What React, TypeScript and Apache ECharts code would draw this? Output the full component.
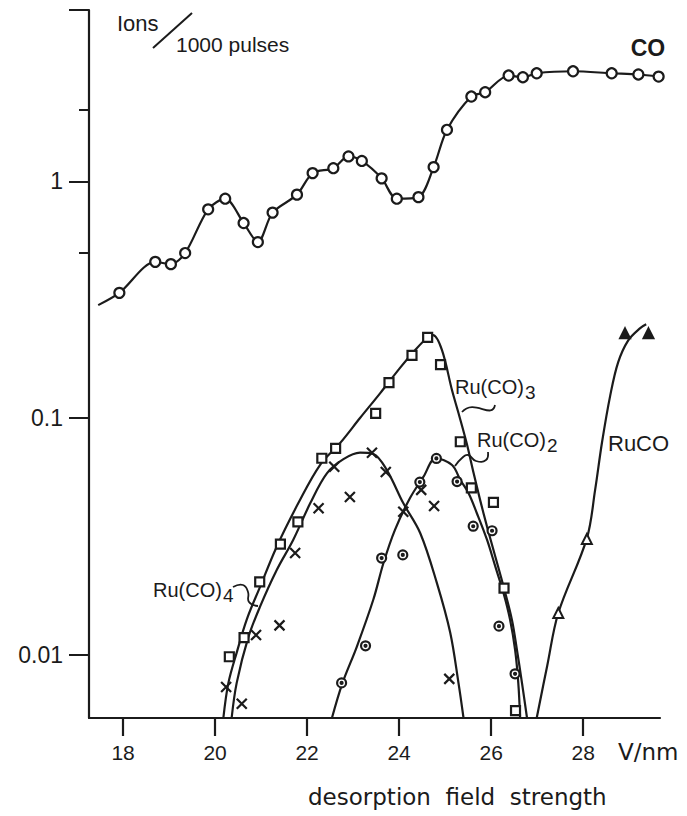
import React, { useEffect, useRef } from 'react';
import * as echarts from 'echarts';

// ---- axis ticks ----
const xTicks = [18, 20, 22, 24, 26, 28];
const yTicks = [0.01, 0.1, 1];
const yMajorTickMarks = [0.01, 0.1, 1, 5.29];
const yMinorTicks = [0.5, 2];

// ---- CO (open circles) ----
const coLineStart: [number, number] = [17.46, 0.30];
const coPoints: [number, number][] = [
  [17.92, 0.338], [18.70, 0.457], [19.04, 0.447], [19.35, 0.498], [19.85, 0.762],
  [20.22, 0.845], [20.62, 0.667], [20.93, 0.554], [21.25, 0.738], [21.78, 0.879],
  [22.12, 1.084], [22.57, 1.137], [22.90, 1.275], [23.19, 1.22], [23.62, 1.03],
  [23.95, 0.845], [24.42, 0.858], [24.75, 1.149], [25.04, 1.652], [25.57, 2.284],
  [25.87, 2.381], [26.38, 2.802], [26.69, 2.755], [26.99, 2.864], [27.78, 2.92],
  [28.62, 2.864], [29.20, 2.83], [29.64, 2.773],
];

// ---- Ru(CO)3 (squares) ----
const ru3Points: [number, number][] = [
  [20.31, 0.0098], [20.63, 0.0118], [20.97, 0.0203], [21.42, 0.0293], [21.80, 0.0364],
  [22.32, 0.0676], [22.62, 0.0745], [23.49, 0.1047], [23.78, 0.141], [24.28, 0.184],
  [24.62, 0.219], [24.90, 0.168], [25.33, 0.0794], [25.57, 0.0507], [26.05, 0.044],
  [26.28, 0.0191], [26.53, 0.0058],
];
const ru3Curve: [number, number][] = [
  [20.18, 0.0054], [20.29, 0.0076], [20.47, 0.0102], [20.69, 0.0141], [20.98, 0.0194],
  [21.34, 0.0286], [21.81, 0.0437], [22.28, 0.0633], [22.72, 0.0785], [23.15, 0.1],
  [23.59, 0.1275], [24.02, 0.163], [24.35, 0.194], [24.63, 0.22], [24.74, 0.224],
  [24.93, 0.194], [25.15, 0.131], [25.29, 0.105], [25.47, 0.078], [25.62, 0.0584],
  [25.76, 0.0451], [25.91, 0.0348], [26.09, 0.026], [26.27, 0.0194], [26.45, 0.0141],
  [26.56, 0.0105], [26.67, 0.0076], [26.78, 0.0054],
];

// ---- Ru(CO)4 (crosses) ----
const ru4Points: [number, number][] = [
  [20.24, 0.0073], [20.58, 0.0062], [20.89, 0.0121], [21.40, 0.0133], [21.74, 0.0269],
  [22.25, 0.0416], [22.59, 0.0623], [22.93, 0.0464], [23.41, 0.0714], [23.71, 0.0592],
  [24.09, 0.0402], [24.48, 0.0497], [24.76, 0.0425], [25.09, 0.0079],
];
const ru4Curve: [number, number][] = [
  [20.36, 0.0054], [20.47, 0.0076], [20.72, 0.0118], [20.98, 0.016], [21.34, 0.0228],
  [21.70, 0.0306], [22.07, 0.0437], [22.43, 0.0584], [22.79, 0.067], [23.15, 0.0714],
  [23.44, 0.0705], [23.73, 0.0604], [24.09, 0.0437], [24.46, 0.0326], [24.82, 0.0201],
  [25.11, 0.0124], [25.29, 0.0076], [25.40, 0.0054],
];

// ---- Ru(CO)2 (dotted circles) ----
const ru2Points: [number, number][] = [
  [22.75, 0.0076], [23.27, 0.0109], [23.62, 0.0256], [24.08, 0.0264], [24.45, 0.0536],
  [24.81, 0.0675], [25.26, 0.0539], [25.61, 0.0349], [26.02, 0.0334], [26.17, 0.0132],
  [26.52, 0.0083],
];
const ru2Curve: [number, number][] = [
  [22.54, 0.0054], [22.77, 0.0076], [23.08, 0.0108], [23.44, 0.0171], [23.66, 0.0244],
  [23.91, 0.0337], [24.24, 0.046], [24.53, 0.0565], [24.80, 0.0676], [25.15, 0.0633],
  [25.33, 0.0547], [25.51, 0.0481], [25.69, 0.0396], [25.91, 0.0306], [26.09, 0.0236],
  [26.27, 0.0182], [26.41, 0.0141], [26.52, 0.0105], [26.59, 0.0076], [26.63, 0.0054],
];

// ---- RuCO (triangles; last two filled) ----
const rucoPoints: [number, number][] = [
  [27.46, 0.0150], [28.08, 0.0308], [28.91, 0.228], [29.42, 0.228],
];
const rucoFilled = [false, false, true, true];
const rucoCurve: [number, number][] = [
  [26.99, 0.0054], [27.22, 0.009], [27.46, 0.015], [28.08, 0.031], [28.26, 0.0497],
  [28.41, 0.079], [28.59, 0.125], [28.76, 0.172], [28.98, 0.213], [29.24, 0.240],
  [29.37, 0.249],
];

const INK = '#1b1b1b';
const FONT = '"Liberation Sans", Arial, sans-serif';
const WIDE = '"DejaVu Sans", sans-serif';

export default function App() {
  const ref = useRef<HTMLDivElement>(null);
  useEffect(() => {
    if (!ref.current) return;
    const chart = echarts.init(ref.current, undefined, { renderer: 'svg' });
    const curveStyle = { color: INK, width: 2.2 };
    const curve = (data: [number, number][]) => ({
      type: 'line', data, smooth: 0.35, showSymbol: false, symbol: 'none',
      lineStyle: curveStyle, z: 2, silent: true,
    });
    const txt = (text: string, x: number, y: number, size: number, extra: any = {}) => ({
      type: 'text', x, y, silent: true,
      style: {
        text, fill: INK,
        font: `${extra.weight || 'normal'} ${size}px ${extra.family || FONT}`,
        textVerticalAlign: 'middle', textAlign: extra.align || 'left',
      },
    });
    // label with subscript, one text element (rich text)
    const subLabel = (main: string, sub: string, x: number, y: number) => ({
      type: 'text', x, y, silent: true,
      style: {
        text: `{m|${main}}{s|${sub}}`, fill: INK, textVerticalAlign: 'middle', textAlign: 'left',
        rich: {
          m: { fontSize: 20, fontFamily: FONT, fill: INK, padding: [0, 1, 10, 0] },
          s: { fontSize: 19, fontFamily: FONT, fill: INK },
        },
      },
    });
    chart.setOption({
      animation: false,
      backgroundColor: '#ffffff',
      grid: { left: 89, right: 27, top: 10, bottom: 98, containLabel: false },
      xAxis: {
        type: 'value', min: 17.26, max: 29.67,
        axisLine: { show: true, lineStyle: { color: INK, width: 2.2 } },
        axisTick: { show: true, customValues: xTicks, length: 18, lineStyle: { color: INK, width: 2.2 } },
        axisLabel: { customValues: xTicks, margin: 24, fontSize: 21, color: INK, fontFamily: FONT },
        splitLine: { show: false },
      },
      yAxis: [
        {
          type: 'log', logBase: 10, min: 0.0054, max: 5.3,
          axisLine: { show: true, lineStyle: { color: INK, width: 2.2 } },
          axisTick: { show: true, customValues: yMajorTickMarks, length: 20, lineStyle: { color: INK, width: 2 } },
          axisLabel: {
            customValues: yTicks, margin: 26, fontSize: 23, color: INK, fontFamily: FONT,
            formatter: (v: number) => String(+Number(v).toPrecision(3)),
          },
          splitLine: { show: false }, minorTick: { show: false },
        },
        {
          type: 'log', logBase: 10, min: 0.0054, max: 5.3, position: 'left',
          axisLine: { show: false },
          axisTick: { show: true, customValues: yMinorTicks, length: 10, lineStyle: { color: INK, width: 2 } },
          axisLabel: { show: false }, splitLine: { show: false },
        },
      ],
      series: [
        { ...curve([coLineStart, ...coPoints]), smooth: 0.3 },
        curve(ru3Curve),
        curve(ru4Curve),
        curve(ru2Curve),
        curve(rucoCurve),
        {
          type: 'scatter', data: coPoints, symbol: 'circle', symbolSize: 10, z: 5,
          itemStyle: { color: '#fff', borderColor: INK, borderWidth: 2.2, opacity: 1 },
        },
        {
          type: 'scatter', data: ru3Points, symbol: 'rect', symbolSize: 9, z: 5,
          itemStyle: { color: '#fff', borderColor: INK, borderWidth: 2.2, opacity: 1 },
        },
        {
          type: 'scatter', data: ru4Points, symbol: 'path://M0,0L10,10M10,0L0,10', symbolSize: 10, z: 5,
          itemStyle: { color: 'rgba(0,0,0,0)', borderColor: INK, borderWidth: 2.2, opacity: 1 },
        },
        {
          type: 'scatter', data: ru2Points,
          symbol: 'path://M10,5A5,5,0,1,1,0,5A5,5,0,1,1,10,5ZM6.1,5A1.1,1.1,0,1,1,3.9,5A1.1,1.1,0,1,1,6.1,5Z',
          symbolSize: 9, z: 5,
          itemStyle: { color: '#fff', borderColor: INK, borderWidth: 2.2, opacity: 1 },
        },
        {
          type: 'scatter', symbol: 'triangle', symbolSize: 10, z: 5,
          data: rucoPoints.map((p, i) => ({ value: p, itemStyle: { color: rucoFilled[i] ? INK : '#fff' } })),
          itemStyle: { color: '#fff', borderColor: INK, borderWidth: 2, opacity: 1 },
        },
      ],
      graphic: [
        txt('Ions', 117, 23, 22),
        { type: 'line', silent: true, shape: { x1: 153, y1: 48, x2: 192, y2: 13 }, style: { stroke: INK, lineWidth: 2 } },
        txt('1000 pulses', 176, 44, 21),
        txt('CO', 648, 48, 23, { weight: 'bold', align: 'center' }),
        subLabel('Ru(CO)', '3', 455, 392),
        { type: 'bezierCurve', silent: true, shape: { x1: 495, y1: 405, cpx1: 492, cpy1: 420, cpx2: 474, cpy2: 398, x2: 462, y2: 412 }, style: { stroke: INK, lineWidth: 1.8, fill: null } },
        subLabel('Ru(CO)', '2', 477, 445),
        { type: 'polyline', silent: true, shape: { points: [[488, 452], [486, 460], [476, 461], [468, 455], [462, 458], [455, 466]], smooth: 0.5 }, style: { stroke: INK, lineWidth: 1.8, fill: null } },
        txt('RuCO', 608, 443, 22),
        subLabel('Ru(CO)', '4', 153, 595),
        { type: 'polyline', silent: true, shape: { points: [[233, 587], [243, 585], [248, 592], [249, 602], [258, 606]], smooth: 0.5 }, style: { stroke: INK, lineWidth: 1.8, fill: null } },
        txt('V/nm', 618, 752, 23, { family: WIDE }),
        txt('desorption  field  strength', 308, 797, 23, { family: WIDE }),
      ],
    });
    return () => chart.dispose();
  }, []);
  return <div ref={ref} style={{ position: 'fixed', left: 0, top: 0, width: 687, height: 816, background: '#fff' }} />;
}
